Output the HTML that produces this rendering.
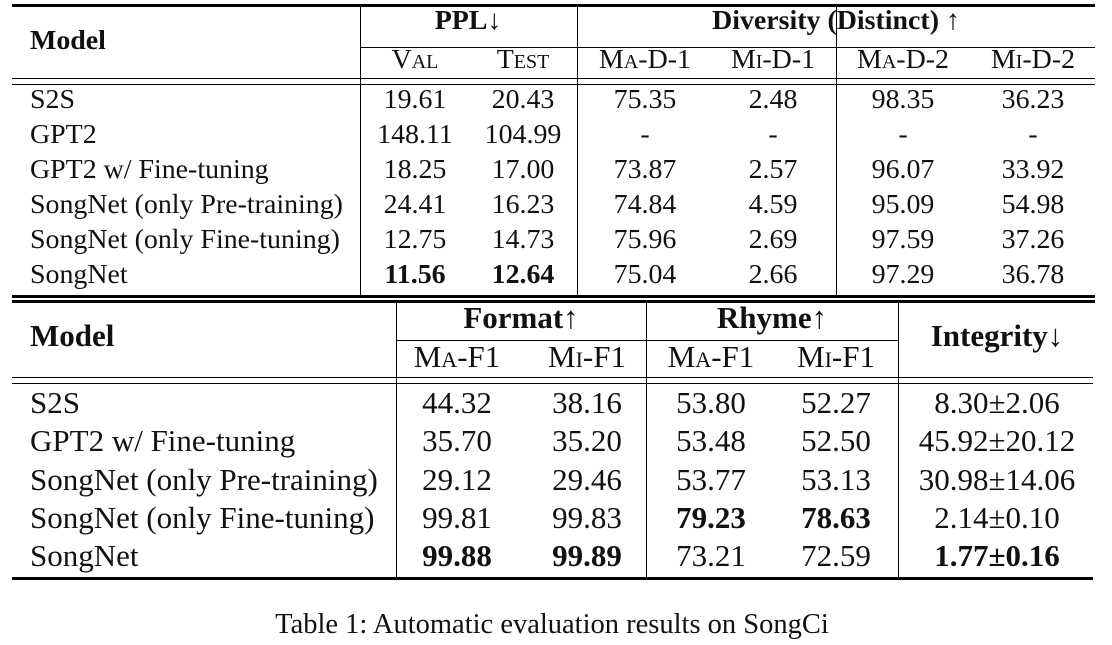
<!DOCTYPE html>
<html><head><meta charset="utf-8"><style>
body{margin:0;width:1112px;height:645px;background:#fff;position:relative;overflow:hidden;font-family:"Liberation Serif",serif;color:#111}
.t{position:absolute;white-space:nowrap;transform:translate(-50%,-50%)}
.l{position:absolute;white-space:nowrap;transform:translateY(-50%)}
.h{position:absolute;background:#000}
.v{position:absolute;background:#000;width:1.3px}
.b{font-weight:bold}
.sc{font-variant:small-caps}
.a{font-size:27.9px}
.c{font-size:31px}
</style></head><body>
<div id="root"></div>
<script>
const root=document.getElementById('root');
function add(cls,x,y,txt,name,w,h){const d=document.createElement('div');d.className=cls;d.style.left=x+'px';d.style.top=y+'px';if(w!==undefined)d.style.width=w+'px';if(h!==undefined)d.style.height=h+'px';if(txt!==null)d.innerHTML=txt;


root.appendChild(d);return d;}
const topModels=["S2S","GPT2","GPT2 w/ Fine-tuning","SongNet (only Pre-training)","SongNet (only Fine-tuning)","SongNet"];
const topVals=[["19.61","20.43","75.35","2.48","98.35","36.23"],["148.11","104.99","-","-","-","-"],["18.25","17.00","73.87","2.57","96.07","33.92"],["24.41","16.23","74.84","4.59","95.09","54.98"],["12.75","14.73","75.96","2.69","97.59","37.26"],["<b>11.56</b>","<b>12.64</b>","75.04","2.66","97.29","36.78"]];
const topCols=[415,523,645,773,903,1033];
const topRows=[100,135,170,205,240,275];
add('h',12,4,null,'top-rule',1083,3);
add('l a b',30,41,'Model','model-header');
add('t a b',468,21,'PPL&darr;','ppl-header');
add('t a b',836,21,'Diversity (Distinct) <span style="font-weight:normal">&uarr;</span>','diversity-header');
add('h',360,47,null,'cmid-ppl',217,1.3);
add('h',577,47,null,'cmid-div',518,1.3);
const sub1=["Val","Test","Ma-D-1","Mi-D-1","Ma-D-2","Mi-D-2"];
sub1.forEach((s,i)=>add('t a sc',topCols[i],60,s,'subheader-'+i));
add('h',12,78,null,'header-rule-1',1083,1.3);
add('h',12,84,null,'header-rule-2',1083,1.3);
[360,577,836].forEach((x,i)=>add('v',x,7,null,'top-vline-'+i,undefined,288));
topModels.forEach((m,r)=>{add('l a',30,topRows[r],m,'model-'+r);topVals[r].forEach((v,c)=>add('t a',topCols[c],topRows[r],v,'cell-'+r+'-'+c));});
add('h',12,295,null,'mid-rule-1',1083,3);
add('h',12,300,null,'mid-rule-2',1083,3);
const botModels=["S2S","GPT2 w/ Fine-tuning","SongNet (only Pre-training)","SongNet (only Fine-tuning)","SongNet"];
const botVals=[["44.32","38.16","53.80","52.27","8.30&plusmn;2.06"],["35.70","35.20","53.48","52.50","45.92&plusmn;20.12"],["29.12","29.46","53.77","53.13","30.98&plusmn;14.06"],["99.81","99.83","<b>79.23</b>","<b>78.63</b>","2.14&plusmn;0.10"],["<b>99.88</b>","<b>99.89</b>","73.21","72.59","<b>1.77&plusmn;0.16</b>"]];
const botCols=[457,587,711,836,997];
const botRows=[403,441,480,518,556];
add('l c b',30,336,'Model','model-header-2');
add('t c b',521,318,'Format&uarr;','format-header');
add('t c b',772,318,'Rhyme&uarr;','rhyme-header');
add('t c b',997,336,'Integrity&darr;','integrity-header');
add('h',396,340,null,'cmid-format',250,1.3);
add('h',646,340,null,'cmid-rhyme',252,1.3);
["Ma-F1","Mi-F1","Ma-F1","Mi-F1"].forEach((s,i)=>add('t c sc',botCols[i],357,s,'subheader2-'+i));
add('h',12,377,null,'header2-rule-1',1081,1.3);
add('h',12,383,null,'header2-rule-2',1081,1.3);
[396,646,898].forEach((x,i)=>add('v',x,302,null,'bot-vline-'+i,undefined,276));
botModels.forEach((m,r)=>{add('l c',30,botRows[r],m,'model2-'+r);botVals[r].forEach((v,c)=>add('t c',botCols[c],botRows[r],v,'cell2-'+r+'-'+c));});
add('h',12,577,null,'bottom-rule',1081,2.5);
add('t',552,625,'Table 1: Automatic evaluation results on SongCi','caption').style.fontSize='28.5px';
</script>
</body></html>
